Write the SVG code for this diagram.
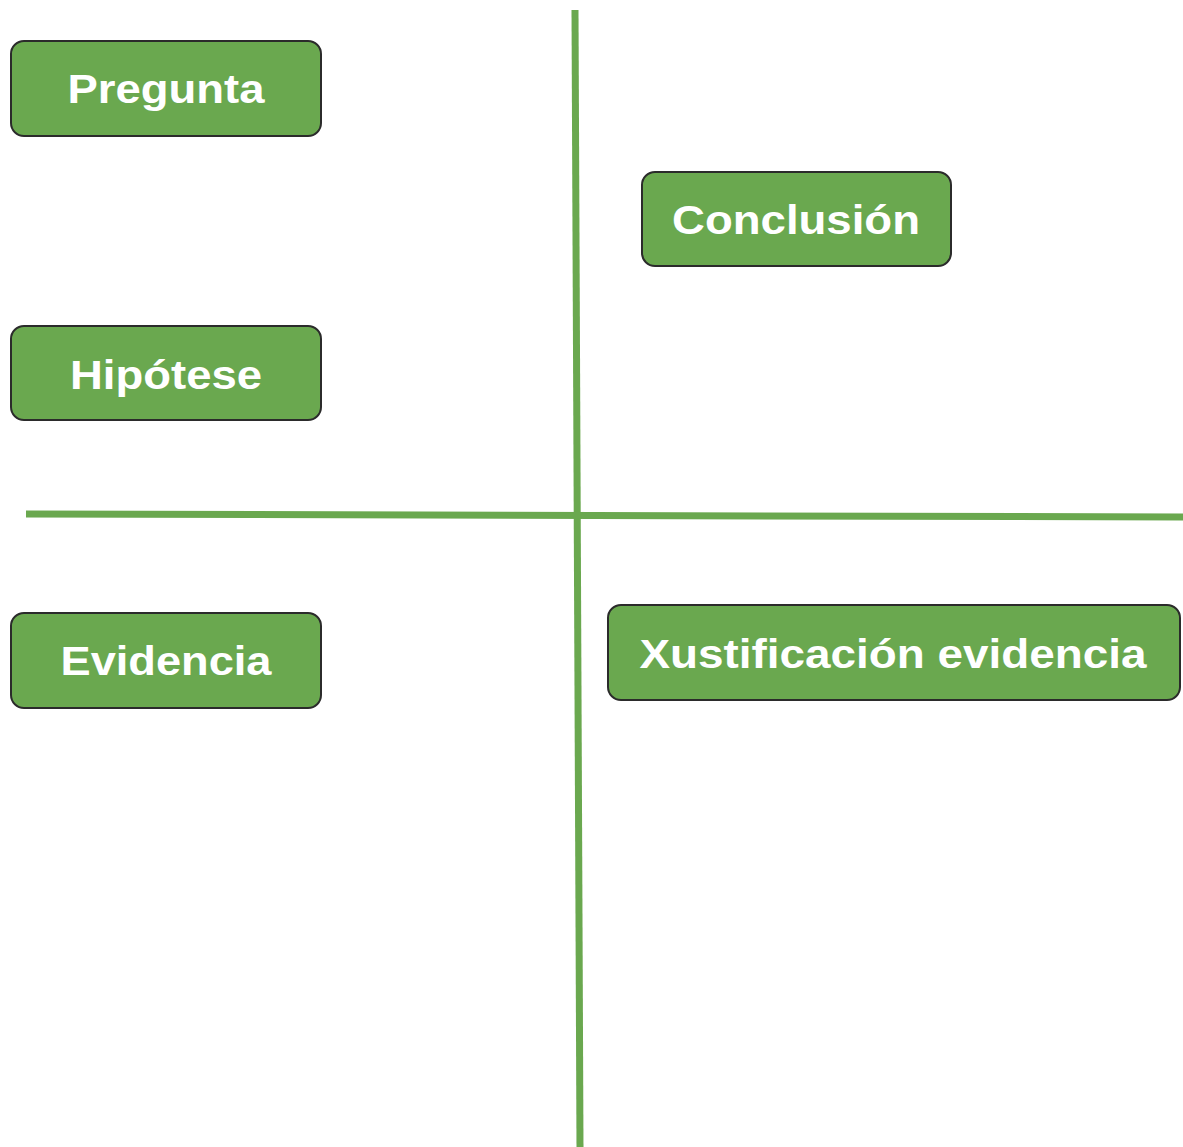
<svg xmlns="http://www.w3.org/2000/svg" width="1183" height="1147" viewBox="0 0 1183 1147">
<style>
.box{fill:#6aa84f;stroke:#2b2b2b;stroke-width:2}
.lbl{font-family:"Liberation Sans",Arial,sans-serif;font-weight:bold;font-size:41px;fill:#ffffff;text-anchor:middle}
.axis{stroke:#6aa84f;stroke-width:7;fill:none}
</style>
<rect width="1183" height="1147" fill="#ffffff"/>
<g id="connectors">
<line class="axis" x1="575" y1="10" x2="580" y2="1147"/>
<line class="axis" x1="26" y1="514" x2="1183" y2="517"/>
</g>
<g id="pregunta">
<rect class="box" x="11" y="41" width="310" height="95" rx="13"/>
<text class="lbl" x="166" y="103" textLength="197" lengthAdjust="spacingAndGlyphs">Pregunta</text>
</g>
<g id="conclusion">
<rect class="box" x="642" y="172" width="309" height="94" rx="13"/>
<text class="lbl" x="796" y="234" textLength="248" lengthAdjust="spacingAndGlyphs">Conclusión</text>
</g>
<g id="hipotese">
<rect class="box" x="11" y="326" width="310" height="94" rx="13"/>
<text class="lbl" x="166" y="389" textLength="192" lengthAdjust="spacingAndGlyphs">Hipótese</text>
</g>
<g id="evidencia">
<rect class="box" x="11" y="613" width="310" height="95" rx="13"/>
<text class="lbl" x="166" y="675" textLength="211" lengthAdjust="spacingAndGlyphs">Evidencia</text>
</g>
<g id="xustificacion">
<rect class="box" x="608" y="605" width="572" height="95" rx="13"/>
<text class="lbl" x="893" y="668" textLength="507" lengthAdjust="spacingAndGlyphs">Xustificación evidencia</text>
</g>
</svg>
